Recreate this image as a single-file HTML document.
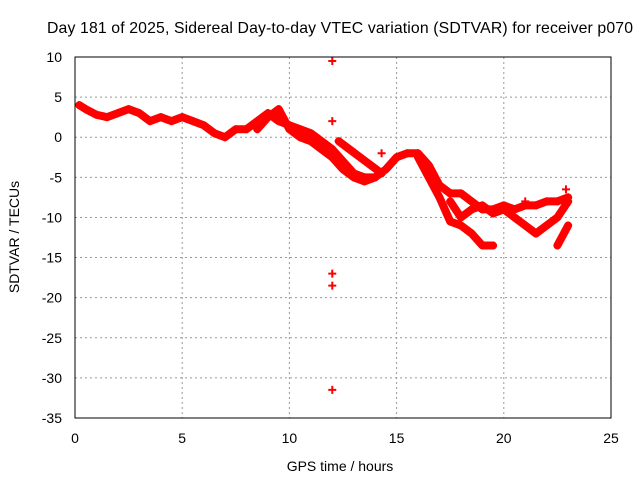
<!DOCTYPE html>
<html><head><meta charset="utf-8"><style>
body{margin:0;background:#fff}
svg{display:block;font-family:"Liberation Sans",sans-serif}
</style></head><body>
<svg id="chart" width="640" height="480">
<text x="340" y="33" font-size="15.8" text-anchor="middle" textLength="586">Day 181 of 2025, Sidereal Day-to-day VTEC variation (SDTVAR) for receiver p070</text>
<text x="340" y="471" font-size="14" text-anchor="middle">GPS time / hours</text>
<text transform="translate(19,237) rotate(-90)" font-size="14" text-anchor="middle">SDTVAR / TECUs</text>
<g id="grid"></g><g id="ticks"></g><g id="series"></g>
<rect x="75" y="57" width="536" height="361" fill="none" stroke="#000" stroke-width="1"/>
</svg>
<script>
const xTicks=[0,5,10,15,20,25];
const yTicks=[10,5,0,-5,-10,-15,-20,-25,-30,-35];
const traceA=[[0.2,4],[0.5,3.5],[1,2.8],[1.5,2.5],[2,3],[2.5,3.5],[3,3],[3.5,2],[4,2.5],[4.5,2],[5,2.5],[5.5,2],[6,1.5],[6.5,0.5],[7,0],[7.5,1],[8,1],[8.5,2],[9,3],[9.5,2],[10,1.5],[10.5,1],[11,0.5],[11.5,-0.5],[12,-1.5],[12.5,-3],[13,-4.5],[13.5,-5],[14,-5],[14.5,-4],[15,-2.5],[15.5,-2],[16,-2],[16.5,-3.5],[17,-6],[17.5,-7],[18,-7],[18.5,-8],[19,-9],[19.5,-9],[20,-8.5],[20.5,-9],[21,-8.5],[21.5,-8.5],[22,-8],[22.5,-8],[23,-7.5]];
const traceB=[[8.5,1],[9,2.5],[9.5,3.5],[10,1],[10.5,0],[11,-0.5],[11.5,-1.5],[12,-2.5],[12.5,-4],[13,-5],[13.5,-5.5],[14,-5]];
const traceC=[[12.3,-0.5],[12.8,-1.5],[13.3,-2.5],[13.8,-3.5],[14.3,-4.5]];
const traceD=[[16,-2.5],[16.5,-5],[17,-7.5],[17.5,-10.5],[18,-11],[18.5,-12],[19,-13.5],[19.5,-13.5]];
const traceE=[[17.5,-8],[18,-10],[18.5,-9],[19,-8.5],[19.5,-9.5],[20,-9],[20.5,-10],[21,-11],[21.5,-12],[22,-11],[22.5,-10],[23,-8]];
const traceF=[[22.5,-13.5],[23,-11]];
const outliers=[[12,9.5],[12,2],[12,-17],[12,-18.5],[12,-31.5],[14.3,-2],[21,-8],[22.9,-6.5]];
const NS="http://www.w3.org/2000/svg";
const X=v=>75+v*(536/25), Y=v=>57+(10-v)*(361/45);
function mk(t,a,p){const e=document.createElementNS(NS,t);for(const k in a)e.setAttribute(k,a[k]);p.appendChild(e);return e;}
const g=document.getElementById('grid'),tk=document.getElementById('ticks'),s=document.getElementById('series');
xTicks.forEach(v=>{
 if(v>0&&v<25){const l=mk('line',{x1:X(v),x2:X(v),y1:57,y2:418,stroke:'#999','stroke-dasharray':'2,3'},g);
 }
 const t=mk('text',{x:X(v),y:443,'font-size':14,'text-anchor':'middle'},tk);t.textContent=v;
 
});
yTicks.forEach(v=>{
 if(v<10&&v>-35){const l=mk('line',{x1:75,x2:611,y1:Y(v),y2:Y(v),stroke:'#999','stroke-dasharray':'2,3'},g);
 }
 const t=mk('text',{x:62,y:Y(v)+5,'font-size':14,'text-anchor':'end'},tk);t.textContent=v;
 
});
function plus(p,par){const x=X(p[0]),y=Y(p[1]);
 const e=mk('path',{d:`M${x-4},${y}H${x+4}M${x},${y-4}V${y+4}`,stroke:'#f00','stroke-width':2,fill:'none'},par);
 }
[traceA,traceB,traceC,traceD,traceE,traceF].forEach((tr,i)=>{
 const gg=mk('g',{},s);
 const pl=mk('polyline',{points:tr.map(p=>X(p[0])+','+Y(p[1])).join(' '),fill:'none',stroke:'#f00','stroke-width':8,'stroke-linejoin':'round','stroke-linecap':'round'},gg);
 
 tr.forEach(p=>plus(p,gg));
});
outliers.forEach(p=>plus(p,s));
</script>
</body></html>
